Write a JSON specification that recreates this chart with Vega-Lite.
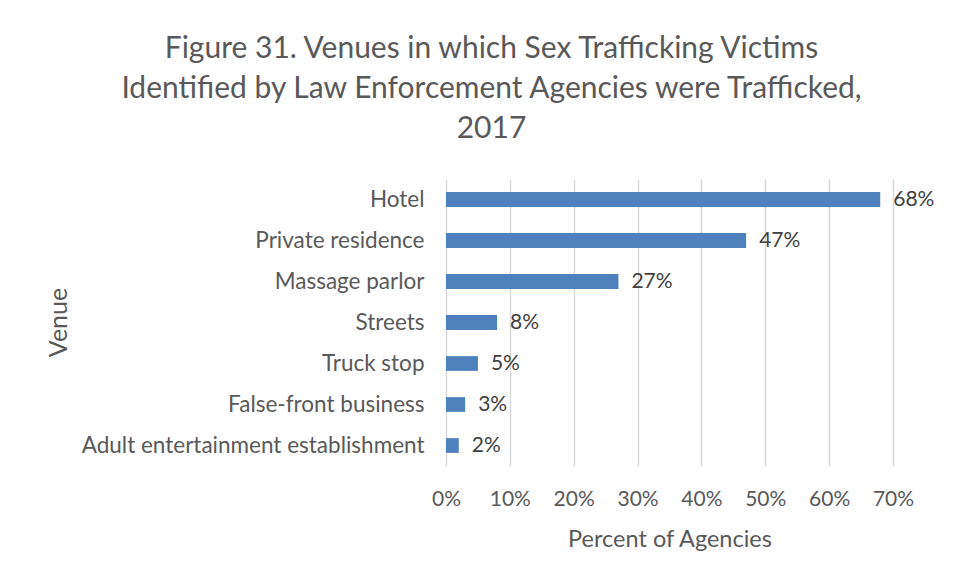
{
  "$schema": "https://vega.github.io/schema/vega-lite/v6.json",
  "width": 447,
  "height": 287,
  "autosize": {"type": "none"},
  "padding": {"left": 446, "top": 179, "right": 76, "bottom": 117},
  "background": "white",
  "config": {
    "view": {"stroke": null},
    "font": "Lato"
  },
  "title": {
    "text": ["Figure 31. Venues in which Sex Trafficking Victims", "Identified by Law Enforcement Agencies were Trafficked,", "2017"],
    "anchor": "middle",
    "frame": "group",
    "dx": -178,
    "offset": 5,
    "fontSize": 30,
    "lineHeight": 40,
    "font": "Lato",
    "fontWeight": "normal",
    "color": "#595959",
    "baseline": "bottom"
  },
  "data": {
    "values": [
      {"venue": "Hotel", "pct": 0.68},
      {"venue": "Private residence", "pct": 0.47},
      {"venue": "Massage parlor", "pct": 0.27},
      {"venue": "Streets", "pct": 0.08},
      {"venue": "Truck stop", "pct": 0.05},
      {"venue": "False-front business", "pct": 0.03},
      {"venue": "Adult entertainment establishment", "pct": 0.02}
    ]
  },
  "encoding": {
    "y": {
      "field": "venue",
      "type": "nominal",
      "sort": null,
      "scale": {"paddingInner": 0.64, "paddingOuter": 0.32},
      "axis": {
        "title": "Venue",
        "titleFontSize": 25,
        "titleFontWeight": "normal",
        "titleColor": "#595959",
        "titlePadding": 0,
        "titleX": -388,
        "titleY": 143,
        "titleAlign": "center",
        "titleAngle": -90,
        "titleBaseline": "middle",
        "labelFontSize": 22.5,
        "labelColor": "#595959",
        "labelPadding": 22,
        "ticks": false,
        "domain": false,
        "labelLimit": 500
      }
    },
    "x": {
      "field": "pct",
      "type": "quantitative",
      "scale": {"domain": [0, 0.7], "nice": false},
      "axis": {
        "title": "Percent of Agencies",
        "titleFontSize": 23.5,
        "titleFontWeight": "normal",
        "titleColor": "#595959",
        "titlePadding": 18,
        "format": ".0%",
        "values": [0, 0.1, 0.2, 0.3, 0.4, 0.5, 0.6, 0.7],
        "labelFontSize": 21,
        "labelColor": "#595959",
        "labelPadding": 22,
        "labelFlush": false,
        "labelOverlap": false,
        "ticks": false,
        "domain": false,
        "grid": true,
        "gridColor": "#D9D9D9",
        "gridWidth": 1.5
      }
    }
  },
  "layer": [
    {
      "mark": {"type": "bar", "color": "#4F81BD"}
    },
    {
      "mark": {"type": "text", "align": "left", "baseline": "middle", "dx": 13, "fontSize": 21, "color": "#404040"},
      "encoding": {
        "text": {"field": "pct", "type": "quantitative", "format": ".0%"}
      }
    }
  ]
}
